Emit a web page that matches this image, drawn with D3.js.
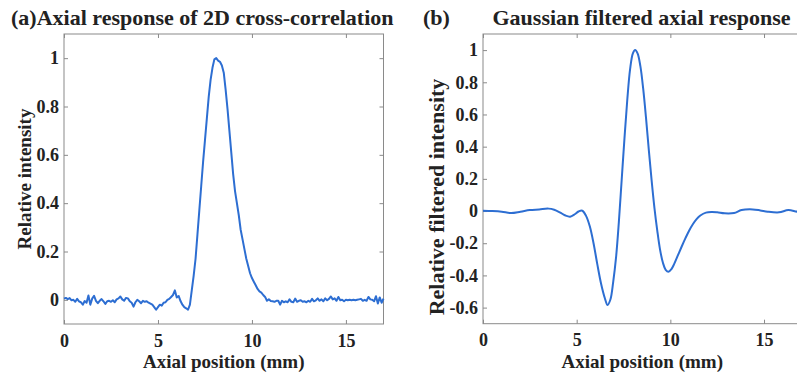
<!DOCTYPE html>
<html>
<head>
<meta charset="utf-8">
<script src="https://cdn.jsdelivr.net/npm/d3@7"></script>
<style>
  body { margin: 0; background: #fff; }
  svg { display: block; }
  text { font-family: "Times New Roman", "Liberation Serif", serif; font-weight: bold; fill: #222; }
</style>
</head>
<body>
<div id="chart"></div>
<script>
// (a) raw axial response, sampled every 0.1 mm from 0 to 17
const rawStep = 0.1;
const rawValues = [
  0.005, 0.008, 0.003, 0.007, -0.002, 0.000, -0.008, 0.004, -0.006, -0.010,
  -0.020, -0.005, -0.012, 0.018, -0.020, 0.005, 0.017, -0.004, -0.014, -0.004,
  0.003, -0.006, -0.017, -0.006, -0.004, -0.008, -0.002, -0.010, 0.002, 0.006,
  0.014, 0.002, -0.004, 0.008, 0.006, -0.006, -0.012, -0.028, -0.010, 0.000,
  -0.006, -0.014, -0.004, -0.008, -0.006, -0.012, -0.016, -0.020, -0.030, -0.041,
  -0.030, -0.020, -0.024, -0.012, -0.010, 0.000, 0.004, 0.012, 0.020, 0.039,
  0.010, 0.016, -0.005, -0.020, -0.030, -0.035, -0.041, -0.020, 0.040, 0.100,
  0.170, 0.270, 0.370, 0.470, 0.570, 0.660, 0.750, 0.840, 0.910, 0.960,
  0.995, 1.000, 0.990, 0.985, 0.970, 0.940, 0.870, 0.790, 0.700, 0.610,
  0.520, 0.450, 0.400, 0.350, 0.290, 0.250, 0.210, 0.170, 0.140, 0.110,
  0.090, 0.075, 0.060, 0.045, 0.035, 0.030, 0.020, 0.012, -0.004, 0.002,
  -0.005, -0.006, -0.008, -0.004, -0.004, -0.020, -0.004, -0.010, -0.006, -0.010,
  0.002, -0.008, -0.010, 0.005, -0.008, -0.004, -0.002, -0.008, -0.006, -0.010,
  -0.004, -0.008, 0.004, -0.006, -0.002, 0.006, -0.004, 0.002, -0.006, 0.006,
  -0.002, 0.004, 0.014, 0.002, 0.006, -0.004, 0.012, -0.002, 0.000, -0.006,
  0.000, -0.002, 0.000, -0.002, 0.000, -0.002, 0.000, 0.002, 0.004, -0.004,
  0.000, -0.004, 0.012, 0.002, 0.000, -0.006, 0.015, -0.015, 0.010, -0.012,
  0.005
];

// (b) Gaussian filtered response
const filtX = [
  0, 0.5, 1.0, 1.5, 2.0, 2.5, 3.0, 3.5, 3.8, 4.1, 4.4, 4.65, 4.9, 5.1, 5.3, 5.5,
  5.7, 5.9, 6.1, 6.3, 6.5, 6.65, 6.8, 6.95, 7.1, 7.25, 7.4, 7.55, 7.7, 7.85, 8.0,
  8.12, 8.25, 8.4, 8.55, 8.7, 8.85, 9.0, 9.15, 9.3, 9.45, 9.6, 9.75, 9.9, 10.05,
  10.2, 10.4, 10.6, 10.8, 11.0, 11.2, 11.4, 11.6, 11.9, 12.2, 12.5, 12.9, 13.4,
  13.8, 14.4, 14.8, 15.2, 15.8, 16.3, 16.8, 17.0
];
const filtY = [
  0.002, 0.000, -0.004, -0.012, -0.004, 0.006, 0.010, 0.015, 0.008, -0.008, -0.028, -0.035, -0.020, -0.003, 0.002, -0.030,
  -0.095, -0.200, -0.330, -0.450, -0.540, -0.584, -0.550, -0.440, -0.290, -0.070, 0.190, 0.450, 0.690, 0.880, 0.980,
  1.000, 0.980, 0.900, 0.760, 0.580, 0.380, 0.190, 0.020, -0.120, -0.240, -0.320, -0.365, -0.377, -0.362,
  -0.330, -0.276, -0.222, -0.170, -0.122, -0.082, -0.050, -0.028, -0.010, -0.006, -0.008, -0.014, -0.012,
  0.006, 0.010, 0.004, -0.004, -0.008, 0.006, -0.004, 0.000
];

const xTicks = [0, 5, 10, 15];
const yTicksA = [0, 0.2, 0.4, 0.6, 0.8, 1];
const yTicksB = [-0.6, -0.4, -0.2, 0, 0.2, 0.4, 0.6, 0.8, 1];

const width = 797;
const height = 373;
const lineColor = '#2d6ed2';
const boxColor = '#8a8a8a';

const svg = d3.select('#chart')
  .append('svg')
  .attr('width', width)
  .attr('height', height);

svg.append('rect').attr('width', width).attr('height', height).attr('fill', '#fff');

// draws one MATLAB-style boxed panel, returns the scales
function drawPanel(opt) {
  const x = d3.scaleLinear().domain([0, 17]).range([opt.left, opt.right]);
  const y = d3.scaleLinear().domain(opt.yDomain).range([opt.bottom, opt.top]);
  const g = svg.append('g');

  // box
  g.append('rect')
    .attr('x', opt.left)
    .attr('y', opt.top)
    .attr('width', opt.right - opt.left)
    .attr('height', opt.bottom - opt.top)
    .attr('fill', 'none')
    .attr('stroke', boxColor)
    .attr('stroke-width', 1);

  // ticks on all four sides, pointing inward
  const fmt = d => String(d);
  const bottomAxis = g.append('g')
    .attr('transform', 'translate(0,' + opt.bottom + ')')
    .call(d3.axisBottom(x).tickValues(xTicks).tickFormat(fmt).tickSizeInner(-4).tickSizeOuter(0).tickPadding(10));
  const topAxis = g.append('g')
    .attr('transform', 'translate(0,' + opt.top + ')')
    .call(d3.axisTop(x).tickValues(xTicks).tickFormat('').tickSizeInner(-4).tickSizeOuter(0));
  const leftAxis = g.append('g')
    .attr('transform', 'translate(' + opt.left + ',0)')
    .call(d3.axisLeft(y).tickValues(opt.yTicks).tickFormat(fmt).tickSizeInner(-4).tickSizeOuter(0).tickPadding(5));
  const rightAxis = g.append('g')
    .attr('transform', 'translate(' + opt.right + ',0)')
    .call(d3.axisRight(y).tickValues(opt.yTicks).tickFormat('').tickSizeInner(-4).tickSizeOuter(0));

  [bottomAxis, topAxis, leftAxis, rightAxis].forEach(a => {
    a.select('.domain').remove();
    a.selectAll('line').attr('stroke', boxColor);
    a.selectAll('text')
      .attr('fill', '#222')
      .style('font-family', '"Times New Roman", "Liberation Serif", serif')
      .style('font-weight', 'bold')
      .style('font-size', '18px');
  });

  // x label
  g.append('text')
    .attr('x', (opt.left + opt.right) / 2)
    .attr('y', 368)
    .attr('text-anchor', 'middle')
    .style('font-size', '19px')
    .text('Axial position (mm)');

  // y label
  g.append('text')
    .attr('transform', 'translate(' + opt.yLabelX + ',' + opt.yLabelY + ') rotate(-90)')
    .attr('text-anchor', 'middle')
    .style('font-size', opt.yLabelSize)
    .text(opt.yLabel);

  return { x, y };
}

// panel (a)
const a = drawPanel({
  left: 64, right: 383.5, top: 34, bottom: 324,
  yDomain: [-0.1, 1.1], yTicks: yTicksA,
  yLabel: 'Relative intensity', yLabelX: 31, yLabelY: 179, yLabelSize: '19px'
});

svg.append('path')
  .datum(rawValues)
  .attr('fill', 'none')
  .attr('stroke', lineColor)
  .attr('stroke-width', 2)
  .attr('stroke-linejoin', 'round')
  .attr('d', d3.line()
    .x((d, i) => a.x(i * rawStep))
    .y(d => a.y(d)));

svg.append('text')
  .attr('x', 11)
  .attr('y', 25)
  .style('font-size', '22px')
  .text('(a)Axial response of 2D cross-correlation');

// panel (b) - right edge runs past the picture
const b = drawPanel({
  left: 483, right: 801.5, top: 34, bottom: 323.7,
  yDomain: [-0.7, 1.1], yTicks: yTicksB,
  yLabel: 'Relative filtered intensity', yLabelX: 444, yLabelY: 197, yLabelSize: '22px'
});

svg.append('path')
  .datum(filtX.map((xv, i) => [xv, filtY[i]]))
  .attr('fill', 'none')
  .attr('stroke', lineColor)
  .attr('stroke-width', 2)
  .attr('d', d3.line()
    .curve(d3.curveCatmullRom)
    .x(d => b.x(d[0]))
    .y(d => b.y(d[1])));

svg.append('text')
  .attr('x', 423)
  .attr('y', 25)
  .style('font-size', '22px')
  .text('(b)');

svg.append('text')
  .attr('x', 641.5)
  .attr('y', 25)
  .attr('text-anchor', 'middle')
  .style('font-size', '22px')
  .text('Gaussian filtered axial response');
</script>
</body>
</html>
